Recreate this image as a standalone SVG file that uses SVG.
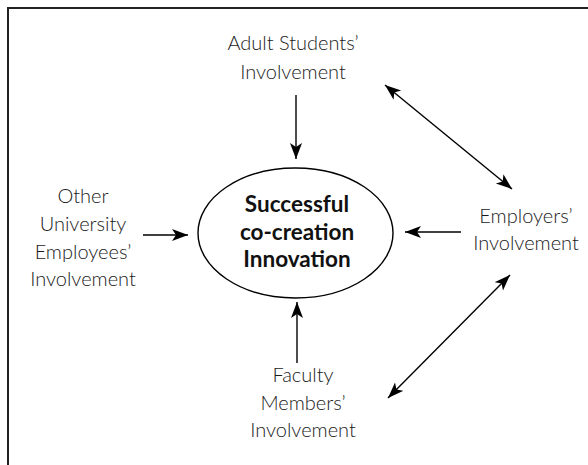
<svg xmlns="http://www.w3.org/2000/svg" width="588" height="465" viewBox="0 0 588 465">
<style>
.lbl{font-family:Lato,"Open Sans","Liberation Sans",sans-serif;font-weight:300;font-size:20px;fill:#1a1a1a;text-anchor:middle}
.core{font-family:Lato,"Open Sans","Liberation Sans",sans-serif;font-weight:700;font-size:22.5px;fill:#111;text-anchor:middle}
.c{stroke:#000;stroke-width:1.4;fill:none}
</style>
<defs>
<marker id="ah" markerUnits="userSpaceOnUse" markerWidth="18" markerHeight="14" refX="16" refY="6" orient="auto-start-reverse">
<path d="M0,0 L16,6 L0,12 L4,6 z" fill="#000"/>
</marker>
</defs>
<g id="frame"><path d="M8,465 V8 H588" stroke="#222" stroke-width="2" fill="none"/></g>
<g id="center">
<ellipse cx="295.5" cy="233" rx="97.5" ry="65" fill="#fff" stroke="#000" stroke-width="1.4"/>
<text class="core" x="297" y="212">Successful</text>
<text class="core" x="297" y="240">co-creation</text>
<text class="core" x="297" y="267">Innovation</text>
</g>
<g id="students">
<text class="lbl" x="293" y="50">Adult Students’</text>
<text class="lbl" x="293" y="79">Involvement</text>
</g>
<g id="other">
<text class="lbl" x="83" y="203">Other</text>
<text class="lbl" x="83" y="231">University</text>
<text class="lbl" x="83" y="259">Employees’</text>
<text class="lbl" x="83" y="286">Involvement</text>
</g>
<g id="employers">
<text class="lbl" x="526" y="223">Employers’</text>
<text class="lbl" x="526" y="250">Involvement</text>
</g>
<g id="faculty">
<text class="lbl" x="303" y="382">Faculty</text>
<text class="lbl" x="303" y="410">Members’</text>
<text class="lbl" x="303" y="437">Involvement</text>
</g>
<g id="connectors">
<line class="c" x1="296" y1="95" x2="296" y2="159" marker-end="url(#ah)"/>
<line class="c" x1="297" y1="363" x2="297" y2="302" marker-end="url(#ah)"/>
<line class="c" x1="143" y1="235" x2="188" y2="235" marker-end="url(#ah)"/>
<line class="c" x1="461" y1="232" x2="405" y2="232" marker-end="url(#ah)"/>
<line class="c" x1="385" y1="85" x2="512" y2="189" marker-start="url(#ah)" marker-end="url(#ah)"/>
<line class="c" x1="510" y1="275" x2="388" y2="398" marker-start="url(#ah)" marker-end="url(#ah)"/>
</g>
</svg>
